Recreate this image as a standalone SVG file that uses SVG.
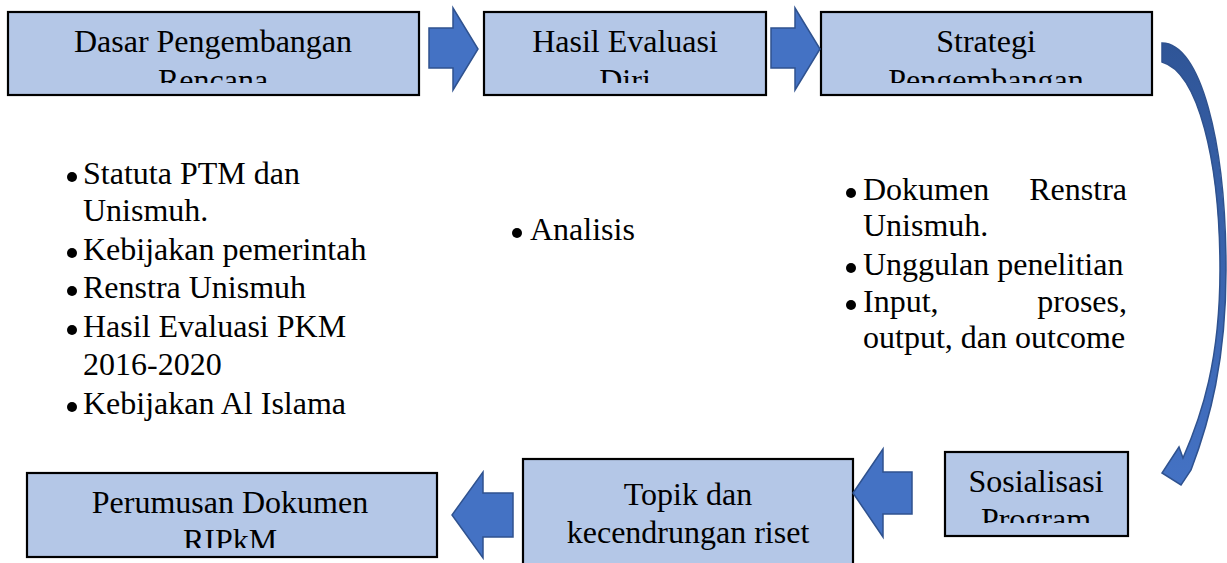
<svg xmlns="http://www.w3.org/2000/svg" width="1227" height="563" viewBox="0 0 1227 563">
<style>
.box{fill:#B4C7E7;stroke:#000;stroke-width:2.2}
.t{font-family:"Liberation Serif","Times New Roman",serif;font-size:32px;fill:#000}
.c{text-anchor:middle}
.blk{fill:#4472C4;stroke:#2F528F;stroke-width:1.5;stroke-linejoin:miter}
.dot{fill:#000}
</style>
<defs>
<clipPath id="c1"><rect x="9" y="13" width="409" height="70"/></clipPath>
<clipPath id="c2"><rect x="485" y="13" width="280" height="70"/></clipPath>
<clipPath id="c3"><rect x="822" y="13" width="329" height="70"/></clipPath>
<clipPath id="c4"><rect x="946" y="453" width="181" height="70"/></clipPath>
<clipPath id="c5"><rect x="28" y="474" width="408" height="74"/></clipPath>
<linearGradient id="cg" x1="0" y1="0" x2="0" y2="1">
<stop offset="0" stop-color="#2F5597"/>
<stop offset="1" stop-color="#4472C4"/>
</linearGradient>
</defs>

<g id="node-dasar">
<rect class="box" x="8" y="12" width="411" height="83"/>
<g clip-path="url(#c1)">
<text class="t c" x="213" y="52">Dasar Pengembangan</text>
<text class="t c" x="213" y="91">Rencana</text>
</g>
</g>

<g id="node-hasil">
<rect class="box" x="484" y="12" width="282" height="83"/>
<g clip-path="url(#c2)">
<text class="t c" x="625" y="52">Hasil Evaluasi</text>
<text class="t c" x="625" y="91">Diri</text>
</g>
</g>

<g id="node-strategi">
<rect class="box" x="821" y="12" width="331" height="83"/>
<g clip-path="url(#c3)">
<text class="t c" x="986" y="52">Strategi</text>
<text class="t c" x="986" y="91">Pengembangan</text>
</g>
</g>

<g id="node-sosialisasi">
<rect class="box" x="945" y="452" width="183" height="84"/>
<g clip-path="url(#c4)">
<text class="t c" x="1036" y="492">Sosialisasi</text>
<text class="t c" x="1036" y="530">Program</text>
</g>
</g>

<g id="node-topik">
<rect class="box" x="523" y="459" width="330" height="110"/>
<text class="t c" x="688" y="505">Topik dan</text>
<text class="t c" x="688" y="543">kecendrungan riset</text>
</g>

<g id="node-perumusan">
<rect class="box" x="27" y="473" width="410" height="84"/>
<g clip-path="url(#c5)">
<text class="t c" x="230" y="513">Perumusan Dokumen</text>
<text class="t c" x="230" y="551">RIPkM</text>
</g>
</g>

<g id="list-dasar">
<circle class="dot" cx="72" cy="177" r="5"/>
<text class="t" x="83" y="184">Statuta PTM dan</text>
<text class="t" x="83" y="221">Unismuh.</text>
<circle class="dot" cx="72" cy="253" r="5"/>
<text class="t" x="83" y="260">Kebijakan pemerintah</text>
<circle class="dot" cx="72" cy="291" r="5"/>
<text class="t" x="83" y="298">Renstra Unismuh</text>
<circle class="dot" cx="72" cy="330" r="5"/>
<text class="t" x="83" y="337">Hasil Evaluasi PKM</text>
<text class="t" x="83" y="375">2016-2020</text>
<circle class="dot" cx="72" cy="407" r="5"/>
<text class="t" x="83" y="414">Kebijakan Al Islama</text>
</g>

<g id="list-hasil">
<circle class="dot" cx="517" cy="233" r="5"/>
<text class="t" x="530" y="240">Analisis</text>
</g>

<g id="list-strategi">
<circle class="dot" cx="851" cy="193" r="5"/>
<text class="t" y="200"><tspan x="863">Dokumen</tspan><tspan x="1127" text-anchor="end">Renstra</tspan></text>
<text class="t" x="863" y="236">Unismuh.</text>
<circle class="dot" cx="851" cy="268" r="5"/>
<text class="t" x="863" y="275">Unggulan penelitian</text>
<circle class="dot" cx="851" cy="305" r="5"/>
<text class="t" y="312"><tspan x="863">Input,</tspan><tspan x="1127" text-anchor="end">proses,</tspan></text>
<text class="t" x="863" y="348">output, dan outcome</text>
</g>

<g id="connectors">
<path class="blk" d="M429,28 H453 V8 L478,49 L453,90 V68 H429 Z"/>
<path class="blk" d="M771,28 H795 V8 L820,49 L795,90 V68 H771 Z"/>
<path class="blk" d="M912,472 H883 V449 L853,493 L883,537 V514 H912 Z"/>
<path class="blk" d="M513,493 H483 V472 L452,515 L483,558 V537 H513 Z"/>
<path fill="url(#cg)" stroke="#2F528F" stroke-width="1.5" d="M1162,43 C1200,43 1226,140 1226,270 C1226,360 1210,420 1191,470 L1181,485 L1162,473 L1179,447 L1183,458 C1202,415 1220,360 1220,270 C1220,160 1198,72 1162,62 Z"/>
</g>
</svg>
